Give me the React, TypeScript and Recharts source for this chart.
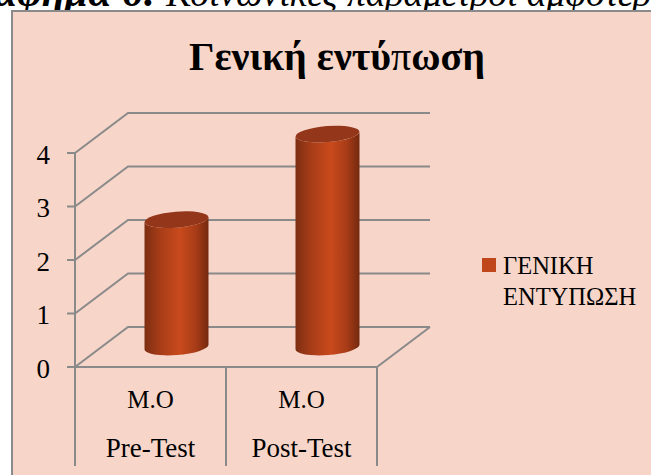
import React from "react";
import { BarChart, Bar, XAxis, YAxis, CartesianGrid, Legend } from "recharts";

// Values
const phases = ["Pre-Test", "Post-Test"];
const measures = ["M.O", "M.O"];
const overallImpression = [2.38, 3.98];
const yTicks = [0, 1, 2, 3, 4];
const legendLines = ["ΓΕΝΙΚΗ", "ΕΝΤΥΠΩΣΗ"];

const chartData = phases.map((phase, i) => ({
  phase,
  measure: measures[i],
  value: overallImpression[i],
}));

const FONT = '"Liberation Serif", serif';
const GRID = "#8a8a8a";
const GRID_WIDTH = 2;
const BG = "#f7d6c9";
const DEPTH_X = 53;
const DEPTH_Y = 40;
const PLOT_BOTTOM = 367;
const BAND = 151;

// Each gridline runs up the side wall and then along the back wall
const WallLine = (props: any) => {
  const { x1, y1, x2, index } = props;
  const isFloor = y1 >= PLOT_BOTTOM - 1;
  return (
    <g key={`wall-${index}`}>
      <polyline
        points={`${x1},${y1} ${x1 + DEPTH_X},${y1 - DEPTH_Y} ${x2 + DEPTH_X},${y1 - DEPTH_Y}`}
        fill="none"
        stroke={GRID}
        strokeWidth={GRID_WIDTH}
      />
      {isFloor && (
        <line
          x1={x2}
          y1={y1}
          x2={x2 + DEPTH_X}
          y2={y1 - DEPTH_Y}
          stroke={GRID}
          strokeWidth={GRID_WIDTH}
        />
      )}
    </g>
  );
};

// Cylinder pushed back to the middle of the floor
const Cylinder = (props: any) => {
  const { x, y, width, height } = props;
  const left = x + 25.5;
  const right = left + width;
  const top = y - 20;
  const bottom = top + height;
  const rx = width / 2;
  const ry = 8;
  const rot = -4.5;
  const tilt = 2.5;
  return (
    <g>
      <path
        d={`M${left},${top + tilt} L${left},${bottom + tilt} A${rx},${ry} ${rot} 0 0 ${right},${bottom - tilt} L${right},${top - tilt} A${rx},${ry} ${rot} 0 1 ${left},${top + tilt} Z`}
        fill="url(#cylinderBody)"
      />
      <ellipse
        cx={left + rx}
        cy={top}
        rx={rx}
        ry={ry}
        fill="#93361a"
        transform={`rotate(${rot} ${left + rx} ${top})`}
      />
    </g>
  );
};

const CategoryTick = (props: any) => {
  const { x, index } = props;
  const left = x - BAND / 2;
  const right = x + BAND / 2;
  return (
    <g fontFamily={FONT} fill="#000">
      <line x1={left} y1={PLOT_BOTTOM} x2={left} y2={466} stroke={GRID} strokeWidth={GRID_WIDTH} />
      <line x1={right} y1={PLOT_BOTTOM} x2={right} y2={466} stroke={GRID} strokeWidth={GRID_WIDTH} />
      <text x={x} y={408} textAnchor="middle" fontSize={25}>
        {chartData[index].measure}
      </text>
      <text x={x} y={457} textAnchor="middle" fontSize={27}>
        {chartData[index].phase}
      </text>
    </g>
  );
};

const LegendBox = () => (
  <div
    style={{
      position: "relative",
      width: 170,
      fontFamily: FONT,
      fontSize: 24.5,
      lineHeight: "31px",
      color: "#000",
      paddingLeft: 21,
      boxSizing: "border-box",
    }}
  >
    <span
      style={{
        position: "absolute",
        left: 0,
        top: 8,
        width: 14,
        height: 14,
        background: "#c0461b",
      }}
    />
    {legendLines.map((line) => (
      <div key={line}>{line}</div>
    ))}
  </div>
);

export default function App() {
  return (
    <div
      style={{
        position: "absolute",
        left: 0,
        top: 0,
        width: 651,
        height: 475,
        overflow: "hidden",
        background: "#fff",
      }}
    >
      <div
        style={{
          position: "absolute",
          left: -53,
          top: -25,
          whiteSpace: "nowrap",
          fontFamily: FONT,
          fontStyle: "italic",
          fontSize: 37.5,
          lineHeight: "34px",
          color: "#000",
        }}
      >
        <b style={{ fontSize: 42 }}>Γράφημα 6:</b> Κοινωνικές παράμετροι αμφοτέρων
      </div>
      <div
        style={{
          position: "absolute",
          left: 11,
          top: 10,
          width: 640,
          height: 465,
          background: BG,
          borderLeft: `2px solid ${GRID}`,
          borderTop: `2px solid ${GRID}`,
          boxSizing: "border-box",
        }}
      />
      <div
        style={{
          position: "absolute",
          left: 11,
          width: 652,
          top: 34,
          textAlign: "center",
          fontFamily: FONT,
          fontWeight: "bold",
          fontSize: 40,
          lineHeight: "46px",
          color: "#000",
        }}
      >
        Γενική εντύ<span style={{ fontWeight: "normal" }}>π</span>ωση
      </div>
      <div style={{ position: "absolute", left: 0, top: 0 }}>
        <BarChart
          width={651}
          height={475}
          data={chartData}
          barSize={64}
          margin={{ top: 153, right: 104, bottom: 8, left: 15 }}
          style={{ background: "transparent" }}
        >
          <defs>
            <linearGradient id="cylinderBody" x1="0" y1="0" x2="1" y2="0">
              <stop offset="0%" stopColor="#7d2e12" />
              <stop offset="25%" stopColor="#a83d18" />
              <stop offset="55%" stopColor="#c94a1c" />
              <stop offset="80%" stopColor="#a83c17" />
              <stop offset="100%" stopColor="#74290f" />
            </linearGradient>
          </defs>
          <CartesianGrid vertical={false} horizontal={WallLine} />
          <YAxis
            width={60}
            domain={[0, 4]}
            ticks={yTicks}
            interval={0}
            axisLine={{ stroke: GRID, strokeWidth: GRID_WIDTH }}
            tickLine={{ stroke: GRID, strokeWidth: GRID_WIDTH }}
            tickSize={8}
            tickMargin={17}
            dy={1}
            tick={{ fontFamily: FONT, fontSize: 27, fill: "#000" }}
          />
          <XAxis
            dataKey="phase"
            height={100}
            interval={0}
            axisLine={{ stroke: GRID, strokeWidth: GRID_WIDTH }}
            tickLine={false}
            tick={CategoryTick}
          />
          <Legend
            layout="vertical"
            align="right"
            verticalAlign="top"
            width={170}
            wrapperStyle={{ left: 482, top: 250, right: "auto" }}
            content={LegendBox}
          />
          <Bar
            dataKey="value"
            name="ΓΕΝΙΚΗ ΕΝΤΥΠΩΣΗ"
            fill="#c0461b"
            shape={Cylinder}
            isAnimationActive={false}
          />
        </BarChart>
      </div>
    </div>
  );
}
